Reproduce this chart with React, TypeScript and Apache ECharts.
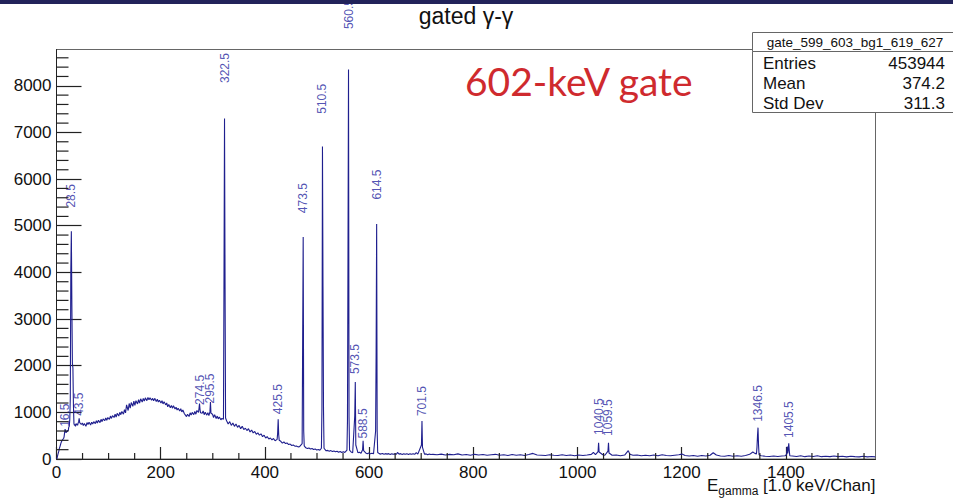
import React, { useEffect, useRef } from 'react';
import * as echarts from 'echarts';

// ---------- data ----------
const lowRange: [number, number][] = [
  [0.5, 0], [1.5, 40], [2.5, 90], [3.5, 130], [4.5, 170], [5.5, 230], [6.5, 260], [7.5, 300],
  [8.5, 340], [9.5, 370], [10.5, 390], [11.5, 410], [12.5, 420], [13.5, 440], [14.5, 470],
  [15.5, 560], [16.5, 640], [17.5, 590], [18.5, 560], [19.5, 600], [20.5, 580], [21.5, 620],
  [22.5, 600], [23.5, 680], [24.5, 700], [25.5, 850], [26.5, 1300], [27.5, 4050], [28.5, 4880],
  [29.5, 3300], [30.5, 2050], [31.5, 1950], [32.5, 1150], [33.5, 760], [34.5, 720], [35.5, 740],
  [36.5, 700], [37.5, 760], [38.5, 730], [39.5, 750], [40.5, 720], [41.5, 770], [42.5, 800],
  [43.5, 870], [44.5, 780],
];

const continuumA: [number, number][] = [
  [47.5, 740], [49.5, 770], [51.5, 720], [53.5, 760], [56.5, 700], [58.5, 780], [60.5, 740],
  [62.5, 790], [65.5, 730], [67.5, 790], [69.5, 750], [71.5, 800], [74.5, 760], [76.5, 820],
  [78.5, 770], [80.5, 830], [83.5, 780], [85.5, 850], [87.5, 800], [89.5, 860], [92.5, 820],
  [94.5, 880], [96.5, 830], [98.5, 890], [101.5, 850], [103.5, 920], [105.5, 870], [107.5, 930],
  [110.5, 890], [112.5, 960], [114.5, 900], [116.5, 980], [119.5, 920], [121.5, 1000], [123.5, 950],
  [125.5, 1020], [128.5, 960], [130.5, 1060], [132.5, 990], [134.5, 1160], [137.5, 1040],
  [139.5, 1190], [141.5, 1090], [143.5, 1210], [146.5, 1130], [148.5, 1240], [150.5, 1150],
  [152.5, 1250], [155.5, 1180], [157.5, 1270], [159.5, 1200], [161.5, 1290], [164.5, 1220],
  [166.5, 1300], [168.5, 1240], [170.5, 1310], [173.5, 1250], [175.5, 1320], [177.5, 1270],
  [179.5, 1310], [182.5, 1260], [184.5, 1300], [186.5, 1250], [188.5, 1300], [191.5, 1230],
  [193.5, 1280], [195.5, 1220], [197.5, 1260], [200.5, 1200], [202.5, 1250], [204.5, 1180],
  [206.5, 1230], [209.5, 1160], [211.5, 1200], [213.5, 1120], [215.5, 1170], [218.5, 1100],
  [220.5, 1150], [222.5, 1090], [224.5, 1140], [227.5, 1070], [229.5, 1110], [231.5, 1050],
  [233.5, 1090], [236.5, 1030], [238.5, 1080], [240.5, 1010], [242.5, 1050], [245.5, 970],
  [247.5, 940], [249.5, 910], [251.5, 960], [254.5, 910], [256.5, 990], [258.5, 940],
  [260.5, 1000], [263.5, 950], [265.5, 1020], [267.5, 960], [269.5, 1040], [279.5, 980],
  [281.5, 1030], [283.5, 950], [285.5, 1000], [288.5, 940], [290.5, 990], [292.5, 930],
  [299.5, 960], [301.5, 890], [303.5, 950], [306.5, 870], [308.5, 920], [310.5, 860],
  [312.5, 900], [315.5, 840], [317.5, 870],
];

const continuumB: [number, number][] = [
  [326.5, 820], [329.5, 750], [332.5, 800], [335.5, 720], [338.5, 770], [341.5, 700], [344.5, 750],
  [347.5, 680], [350.5, 720], [353.5, 650], [356.5, 700], [359.5, 630], [362.5, 660], [365.5, 610],
  [368.5, 650], [371.5, 580], [374.5, 620], [377.5, 560], [380.5, 590], [383.5, 530], [386.5, 560],
  [389.5, 510], [392.5, 540], [395.5, 480], [398.5, 510], [401.5, 450], [404.5, 480], [407.5, 430],
  [410.5, 450], [413.5, 410], [416.5, 440], [419.5, 390], [430.5, 380], [433.5, 340], [436.5, 365],
  [439.5, 330], [442.5, 345], [445.5, 310], [448.5, 320], [451.5, 290], [454.5, 300], [457.5, 275],
  [460.5, 280], [463.5, 260], [466.5, 265], [478.5, 240], [481.5, 225], [484.5, 235], [487.5, 215],
  [490.5, 225], [493.5, 205], [496.5, 215], [499.5, 195], [502.5, 205], [505.5, 190],
  [514.5, 195], [517.5, 175], [520.5, 185], [523.5, 165], [526.5, 180], [529.5, 160], [532.5, 170],
  [535.5, 155], [538.5, 165], [541.5, 145], [544.5, 160], [547.5, 140], [550.5, 155], [553.5, 140],
  [565.5, 150], [568.5, 135], [578.5, 135], [581.5, 145], [584.5, 125], [593.5, 130], [596.5, 115],
  [599.5, 130], [602.5, 110], [605.5, 125], [608.5, 110], [619.5, 115], [622.5, 105], [625.5, 120],
  [628.5, 100], [631.5, 115], [634.5, 105], [637.5, 115], [640.5, 95], [643.5, 110], [646.5, 100],
  [649.5, 110], [652.5, 100], [654.5, 140], [657.5, 105], [660.5, 115], [663.5, 95], [666.5, 110],
  [669.5, 100], [672.5, 115], [675.5, 95], [678.5, 110], [681.5, 100], [684.5, 115], [687.5, 100],
  [690.5, 135], [693.5, 105], [706.5, 100], [709.5, 110], [712.5, 90], [715.5, 105], [718.5, 95],
];

const continuumC: [number, number][] = [
  [722.5, 100], [730.5, 90], [738.5, 105], [746.5, 85], [754.5, 100], [762.5, 90], [770.5, 110],
  [778.5, 85], [786.5, 95], [794.5, 80], [802.5, 100], [810.5, 85], [818.5, 95], [826.5, 80],
  [834.5, 90], [842.5, 100], [850.5, 80], [858.5, 90], [866.5, 75], [874.5, 95], [882.5, 80],
  [890.5, 90], [898.5, 75], [906.5, 95], [914.5, 120], [922.5, 85], [930.5, 80], [938.5, 75],
  [946.5, 90], [954.5, 80], [962.5, 75], [970.5, 90], [978.5, 75], [986.5, 85], [994.5, 70],
  [1002.5, 85], [1010.5, 75], [1018.5, 85], [1026.5, 100], [1030.5, 140], [1034.5, 95],
  [1048.5, 90], [1052.5, 80], [1066.5, 80], [1074.5, 85], [1082.5, 70], [1090.5, 85], [1097.5, 180],
  [1100.5, 100], [1106.5, 80], [1114.5, 85], [1122.5, 70], [1130.5, 80], [1138.5, 70], [1146.5, 85],
  [1154.5, 70], [1162.5, 90], [1170.5, 75], [1178.5, 70], [1186.5, 80], [1194.5, 90], [1200.5, 105],
  [1206.5, 75], [1214.5, 65], [1222.5, 75], [1230.5, 60], [1238.5, 75], [1246.5, 65], [1254.5, 80],
  [1260.5, 135], [1266.5, 85], [1274.5, 65], [1282.5, 60], [1290.5, 75], [1298.5, 60], [1306.5, 70],
  [1314.5, 60], [1322.5, 75], [1330.5, 100], [1336.5, 150], [1340.5, 120], [1352.5, 70],
  [1360.5, 60], [1368.5, 55], [1376.5, 65], [1384.5, 55], [1392.5, 65], [1398.5, 70], [1412.5, 65],
  [1420.5, 55], [1428.5, 70], [1436.5, 50], [1444.5, 65], [1452.5, 55], [1460.5, 70], [1468.5, 50],
  [1476.5, 60], [1484.5, 50], [1492.5, 65], [1500.5, 50], [1508.5, 60], [1516.5, 45], [1524.5, 60],
  [1532.5, 50], [1540.5, 45], [1548.5, 60], [1556.5, 45], [1564.5, 55], [1571.5, 45],
];

const peakShapes: [number, number][][] = [
  [[272.5, 1000], [273.5, 1080], [274.5, 1190], [275.5, 1060], [276.5, 990]],
  [[294.5, 1010], [295.5, 1220], [296.5, 980]],
  [[320.5, 850], [321.5, 3900], [322.5, 7300], [323.5, 3850], [324.5, 880]],
  [[423.5, 420], [424.5, 560], [425.5, 850], [426.5, 520], [427.5, 400]],
  [[471.5, 330], [472.5, 2600], [473.5, 4760], [474.5, 600], [475.5, 280]],
  [[508.5, 230], [509.5, 1100], [510.5, 6700], [511.5, 3700], [512.5, 1050], [513.5, 230]],
  [[557.5, 190], [558.5, 820], [559.5, 4400], [560.5, 8350], [561.5, 900], [562.5, 190]],
  [[572.5, 930], [573.5, 1650], [574.5, 300]],
  [[587.5, 200], [588.5, 390], [589.5, 180]],
  [[612.5, 600], [613.5, 2300], [614.5, 5040], [615.5, 600], [616.5, 140]],
  [[700.5, 300], [701.5, 815], [702.5, 250]],
  [[1039.5, 160], [1040.5, 350], [1041.5, 150]],
  [[1058.5, 170], [1059.5, 350], [1060.5, 130]],
  [[1343.5, 110], [1344.5, 250], [1345.5, 500], [1346.5, 672], [1347.5, 300], [1348.5, 90]],
  [[1401.5, 100], [1402.5, 265], [1403.5, 120], [1404.5, 200], [1405.5, 336], [1406.5, 180], [1407.5, 70]],
];

const peakLabels = [16.5, 28.5, 43.5, 274.5, 295.5, 322.5, 425.5, 473.5, 510.5, 560.5, 573.5, 588.5,
  614.5, 701.5, 1040.5, 1059.5, 1346.5, 1405.5];
const labelBase = [690, 5390, 925, 1160, 1190, 8060, 960, 5270, 7400, 9216, 1820, 440,
  5560, 920, 516, 495, 796, 452];

// axis ranges and tick steps
const xMax = 1572;
const yMax = 8778;
const xMajorStep = 200;
const xMinorStep = 50;
const yMajorStep = 1000;
const yMinorStep = 200;

const chartTitle = 'gated γ-γ';
const gateText = '602-keV gate';
const statsTitle = 'gate_599_603_bg1_619_627';
const statsNames = ['Entries', 'Mean', 'Std Dev'];
const statsValues = ['453944', '374.2', '311.3'];

const FONT = '"Liberation Sans", Arial, Helvetica, sans-serif';

export default function App() {
  const ref = useRef<HTMLDivElement>(null);
  useEffect(() => {
    if (!ref.current) return;
    const chart = echarts.init(ref.current, undefined, { renderer: 'svg' });

    const continuum = [...continuumA, ...continuumB, ...continuumC].filter(
      ([e]) => !peakShapes.some((s) => e >= s[0][0] - 1 && e <= s[s.length - 1][0] + 1)
    );
    const spectrum = [...lowRange, ...continuum, ...peakShapes.flat()].sort((a, b) => a[0] - b[0]);

    const axisCol = '#222';
    const plain = (v: number) => String(v);
    const statsText: any[] = [];
    statsNames.forEach((n, i) => {
      statsText.push({
        type: 'text', z: 110,
        style: { text: n, x: 763, y: 63 + i * 20, font: `17px ${FONT}`, fill: '#111', align: 'left', verticalAlign: 'middle', textAlign: 'left', textVerticalAlign: 'middle' },
      });
      statsText.push({
        type: 'text', z: 110,
        style: { text: statsValues[i], x: 945, y: 63 + i * 20, font: `17px ${FONT}`, fill: '#111', align: 'right', verticalAlign: 'middle', textAlign: 'right', textVerticalAlign: 'middle' },
      });
    });

    chart.setOption({
      animation: false,
      grid: {
        left: 56.5, right: 77.5, top: 49.5, bottom: 40,
        show: true, borderColor: '#666', borderWidth: 1, backgroundColor: 'transparent',
        containLabel: false, outerBoundsMode: 'none',
      },
      xAxis: {
        type: 'value', min: 0, max: xMax, interval: xMajorStep, position: 'bottom',
        axisLine: { show: true, onZero: false, lineStyle: { color: axisCol, width: 1 } },
        axisTick: { show: true, inside: true, length: 12, lineStyle: { color: axisCol, width: 1.2 } },
        axisLabel: { fontSize: 17, color: '#111', fontFamily: FONT, margin: 5, showMaxLabel: false, showMinLabel: true, formatter: plain },
        splitLine: { show: false },
        name: '{e|E}{s|gamma}{t| [1.0 keV/Chan]}',
        nameLocation: 'end', nameGap: 0, nameMoveOverlap: false,
        nameTextStyle: {
          align: 'right', verticalAlign: 'top', padding: [14, 0, 0, 0], color: '#111', fontFamily: FONT,
          rich: {
            e: { fontSize: 17, lineHeight: 24, color: '#111', fontFamily: FONT, verticalAlign: 'middle' },
            s: { fontSize: 12, lineHeight: 10, color: '#111', fontFamily: FONT, verticalAlign: 'bottom' },
            t: { fontSize: 17, lineHeight: 24, color: '#111', fontFamily: FONT, verticalAlign: 'middle' },
          },
        },
      },
      yAxis: {
        type: 'value', min: 0, max: yMax, interval: yMajorStep, position: 'left',
        axisLine: { show: true, onZero: false, lineStyle: { color: axisCol, width: 1 } },
        axisTick: { show: true, inside: true, length: 25, lineStyle: { color: axisCol, width: 1.2 } },
        axisLabel: { fontSize: 17, color: '#111', fontFamily: FONT, margin: 5, showMaxLabel: false, formatter: plain },
        splitLine: { show: false },
      },
      series: [
        {
          type: 'line', data: spectrum, showSymbol: false, symbol: 'none',
          lineStyle: { color: '#1f1f8e', width: 1.1 }, silent: true, z: 2,
        },
        {
          type: 'scatter', clip: false, silent: true, z: 3,
          data: peakLabels.map((e, i) => [e, labelBase[i]]),
          symbolSize: 1, itemStyle: { color: 'rgba(0,0,0,0)' },
          label: {
            show: true, position: 'inside', rotate: 90, align: 'left', verticalAlign: 'middle',
            formatter: (p: any) => Number(p.value[0]).toFixed(1),
            color: '#2626a0', fontSize: 12, fontFamily: FONT,
          },
        },
      ],
    });

    // minor ticks, placed through the chart's own axis scales
    const tickEls: any[] = [];
    for (let v = xMinorStep; v < xMax; v += xMinorStep) {
      if (v % xMajorStep === 0) continue;
      const p = chart.convertToPixel({ xAxisIndex: 0, yAxisIndex: 0 }, [v, 0]) as number[];
      tickEls.push({ type: 'line', z: 50, silent: true, shape: { x1: p[0], y1: p[1], x2: p[0], y2: p[1] - 6 }, style: { stroke: axisCol, lineWidth: 1.2 } });
    }
    for (let v = yMinorStep; v < yMax; v += yMinorStep) {
      if (v % yMajorStep === 0) continue;
      const p = chart.convertToPixel({ xAxisIndex: 0, yAxisIndex: 0 }, [0, v]) as number[];
      tickEls.push({ type: 'line', z: 50, silent: true, shape: { x1: p[0], y1: p[1], x2: p[0] + 12, y2: p[1] }, style: { stroke: axisCol, lineWidth: 1.2 } });
    }

    chart.setOption({
      graphic: [
        {
          type: 'text', z: 100,
          style: { text: chartTitle, x: 466, y: 16, font: `23px ${FONT}`, fill: '#111', align: 'center', verticalAlign: 'middle', textAlign: 'center', textVerticalAlign: 'middle' },
        },
        {
          type: 'text', z: 100,
          style: { text: gateText, x: 465, y: 81, font: '39px Lato', fill: '#cf2a2e', align: 'left', verticalAlign: 'middle', textAlign: 'left', textVerticalAlign: 'middle' },
        },
        ...tickEls,
        { type: 'rect', z: 105, shape: { x: 752.5, y: 32.5, width: 201, height: 19 }, style: { fill: '#fff', stroke: '#666', lineWidth: 1 } },
        { type: 'rect', z: 105, shape: { x: 752.5, y: 51.5, width: 201, height: 61 }, style: { fill: '#fff', stroke: '#666', lineWidth: 1 } },
        {
          type: 'text', z: 110,
          style: { text: statsTitle, x: 855, y: 42.5, font: `13.5px ${FONT}`, fill: '#111', align: 'center', verticalAlign: 'middle', textAlign: 'center', textVerticalAlign: 'middle' },
        },
        ...statsText,
        { type: 'rect', z: 200, shape: { x: 0, y: 0, width: 953, height: 4 }, style: { fill: '#22235a' } },
      ],
    });
    return () => chart.dispose();
  }, []);
  return <div ref={ref} style={{ position: 'absolute', left: 0, top: 0, width: 953, height: 499 }} />;
}
